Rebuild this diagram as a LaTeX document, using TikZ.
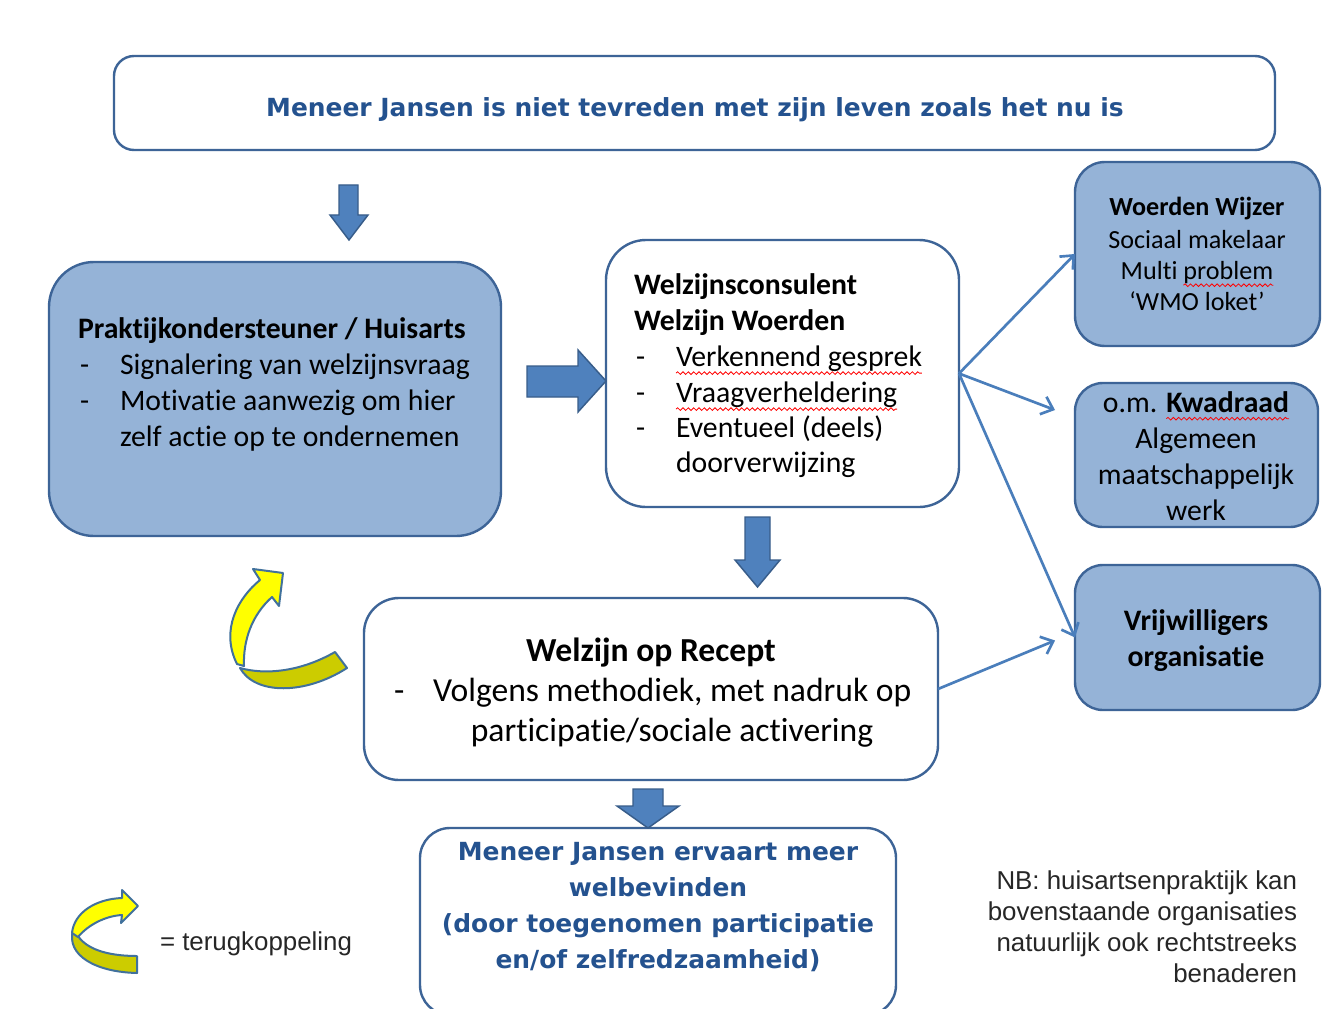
\documentclass[tikz,border=0pt]{standalone}
\usepackage{fontspec}
\usetikzlibrary{arrows.meta,calc,decorations.pathmorphing}
\setmainfont{Carlito}[Ligatures=NoCommon]
\newfontfamily\verd{DejaVu Sans}
\newfontfamily\ari{Liberation Sans}
\definecolor{bord}{HTML}{3D6497}
\definecolor{lfill}{HTML}{95B3D7}
\definecolor{afill}{HTML}{4F81BD}
\definecolor{aborder}{HTML}{385D8A}
\definecolor{tline}{HTML}{4A7EBB}
\definecolor{tblue}{HTML}{24528F}
\definecolor{ybright}{HTML}{FFFF00}
\definecolor{ydark}{HTML}{CCCC00}
\definecolor{yborder}{HTML}{41719C}
\definecolor{nbgray}{HTML}{262626}
\begin{document}
\begin{tikzpicture}[x=0.75pt,y=-0.75pt,
  box/.style={draw=bord, line width=1.8pt, rounded corners=#1, inner sep=0pt, outer sep=0pt},
  blockarrow/.style={fill=afill, draw=aborder, line width=1.1pt, line join=miter},
  thinarr/.style={draw=tline, line width=2pt, -{Straight Barb[length=8pt,width=14pt]}},
  wavy/.style={draw=red, line width=0.6pt, decorate, decoration={snake, amplitude=1pt, segment length=4pt}},
  yband/.style={draw=yborder, line width=1.5pt, line join=round},
  txt/.style={inner sep=0pt, outer sep=0pt},
  vb/.style={txt, text=tblue, font=\verd\bfseries\fontsize{18.7}{22}\selectfont},
  cr/.style={txt, font=\fontsize{22.3}{26}\selectfont},
  cb/.style={txt, font=\bfseries\fontsize{22.3}{26}\selectfont},
  crl/.style={txt, font=\fontsize{25.2}{30}\selectfont},
  cbl/.style={txt, font=\bfseries\fontsize{25.2}{30}\selectfont},
  crs/.style={txt, font=\fontsize{19.6}{23}\selectfont},
  cbs/.style={txt, font=\bfseries\fontsize{19.6}{23}\selectfont},
  ar/.style={txt, text=nbgray, font=\ari\fontsize{19.4}{23}\selectfont}
]
\useasboundingbox (0,0) rectangle (1334,1009);
\clip (0,0) rectangle (1334,1009);
\fill[white] (0,0) rectangle (1334,1009);

% boxes
\node[box=15pt, fill=white, minimum width=870.75pt, minimum height=70.5pt] (top) at (694.5,103) {};
\node[box=33.75pt, fill=lfill, minimum width=339pt, minimum height=205.5pt] (L) at (275,399) {};
\node[box=30pt, fill=white, minimum width=264.75pt, minimum height=200.25pt] (M) at (782.5,373.5) {};
\node[box=26.25pt, fill=white, minimum width=430.5pt, minimum height=136.5pt] (R) at (651,689) {};
\node[box=22.5pt, fill=white, minimum width=357pt, minimum height=140.25pt] (B) at (658,921.5) {};
\node[box=22.5pt, fill=lfill, minimum width=183.75pt, minimum height=138pt] (W) at (1197.5,254) {};
\node[box=21pt, fill=lfill, minimum width=182.25pt, minimum height=108pt] (K) at (1196.5,455) {};
\node[box=21pt, fill=lfill, minimum width=183.75pt, minimum height=108.75pt] (V) at (1197.5,637.5) {};

% block arrows
\draw[blockarrow] (339,185) -- (358,185) -- (358,215) -- (368,215) -- (349,240) -- (330,215) -- (339,215) -- cycle;
\draw[blockarrow] (527,366) -- (578,366) -- (578,350) -- (606,381) -- (578,412) -- (578,397) -- (527,397) -- cycle;
\draw[blockarrow] (745,517) -- (770,517) -- (770,560) -- (780,560) -- (757.5,587) -- (735,560) -- (745,560) -- cycle;
\draw[blockarrow] (633,789) -- (663,789) -- (663,806) -- (679,806) -- (648,828) -- (617,806) -- (633,806) -- cycle;

% thin arrows
\draw[thinarr] (M.east) -- (W.west);
\draw[thinarr] (M.east) -- ($(K.west)+(-20,-45)$);
\draw[thinarr] (M.east) -- (V.west);
\draw[thinarr] (R.east) -- ($(V.west)+(-20,3)$);

% yellow feedback arrow
\draw[yband, fill=ydark] (335,652) -- (347,668) .. controls (305,695) and (255,695) .. (240,668) .. controls (265,675) and (300,672) .. (335,652) -- cycle;
\draw[yband, fill=ybright] (237,664) .. controls (220,630) and (238,598) .. (260,580) -- (253,569) -- (283,573) -- (279,606) -- (272,597) .. controls (252,615) and (243,640) .. (244,666) -- cycle;

% legend arrow
\draw[yband, fill=ydark] (73,930) .. controls (66,955) and (95,972) .. (137,973) -- (137,956) .. controls (105,956) and (86,948) .. (78,936) -- cycle;
\draw[yband, fill=ybright] (122,898) .. controls (95,899) and (74,913) .. (72,933) -- (78,937) .. controls (88,925) and (105,916) .. (122,915) -- (121,923) -- (138,906) -- (122,890) -- cycle;

% texts
\node[vb, anchor=base] (t1) at (695,117) {Meneer Jansen is niet tevreden met zijn leven zoals het nu is};

\node[cb, anchor=base west] (l1) at (78,338) {Praktijkondersteuner / Huisarts};
\node[cr, anchor=base west] (l2d) at (80,374) {-};
\node[cr, anchor=base west] (l2) at (120,374) {Signalering van welzijnsvraag};
\node[cr, anchor=base west] (l3d) at (80,410) {-};
\node[cr, anchor=base west] (l3) at (120,410) {Motivatie aanwezig om hier};
\node[cr, anchor=base west] (l4) at (120,446) {zelf actie op te ondernemen};

\node[cb, anchor=base west] (m1) at (634,294) {Welzijnsconsulent};
\node[cb, anchor=base west] (m2) at (634,330) {Welzijn Woerden};
\node[cr, anchor=base west] (m3d) at (636,366) {-};
\node[cr, anchor=base west] (m3) at (676,366) {Verkennend gesprek};
\node[cr, anchor=base west] (m4d) at (636,402) {-};
\node[cr, anchor=base west] (m4) at (676,402) {Vraagverheldering};
\node[cr, anchor=base west] (m5d) at (636,437) {-};
\node[cr, anchor=base west] (m5) at (676,437) {Eventueel (deels)};
\node[cr, anchor=base west] (m6) at (676,472) {doorverwijzing};
\draw[wavy] ($(m3.south west)+(0,2)$) -- ($(m3.south east)+(0,2)$);
\draw[wavy] ($(m4.south west)+(0,2)$) -- ($(m4.south east)+(0,2)$);

\node[cbl, anchor=base] (r1) at (651,661) {Welzijn op Recept};
\node[crl, anchor=base west] (r2d) at (394,701) {-};
\node[crl, anchor=base west] (r2) at (433,701) {Volgens methodiek, met nadruk op};
\node[crl, anchor=base] (r3) at (672,741) {participatie/sociale activering};

\node[vb, anchor=base] (b1) at (658,860) {Meneer Jansen ervaart meer};
\node[vb, anchor=base] (b2) at (658,896) {welbevinden};
\node[vb, anchor=base] (b3) at (658,932) {(door toegenomen participatie};
\node[vb, anchor=base] (b4) at (658,968) {en/of zelfredzaamheid)};

\node[cbs, anchor=base] (w1) at (1197,216) {Woerden Wijzer};
\node[crs, anchor=base] (w2) at (1197,248) {Sociaal makelaar};
\node[crs, anchor=base] (w3) at (1197,279) {Multi problem};
\node[crs, anchor=base east] (w3p) at (w3.base east) {\phantom{problem}};
\node[crs, anchor=base] (w4) at (1197,310) {‘WMO loket’};
\draw[wavy] ($(w3p.south west)+(0,2)$) -- ($(w3p.south east)+(0,2)$);

\node[cr, anchor=base] (k1) at (1196,412) {o.m. \textbf{Kwadraad}};
\node[cb, anchor=base east] (k1p) at (k1.base east) {\vphantom{p}\phantom{Kwadraad}};
\node[cr, anchor=base] (k2) at (1196,448) {Algemeen};
\node[cr, anchor=base] (k3) at (1196,484) {maatschappelijk};
\node[cr, anchor=base] (k4) at (1196,520) {werk};
\draw[wavy] ($(k1p.south west)+(0,2)$) -- ($(k1p.south east)+(0,2)$);

\node[cb, anchor=base] (v1) at (1196,630) {Vrijwilligers};
\node[cb, anchor=base] (v2) at (1196,666) {organisatie};

\node[ar, anchor=base west] (leg) at (160,950) {= terugkoppeling};

\node[ar, anchor=base east] (nb1) at (1297,889) {NB: huisartsenpraktijk kan};
\node[ar, anchor=base east] (nb2) at (1297,920) {bovenstaande organisaties};
\node[ar, anchor=base east] (nb3) at (1297,951) {natuurlijk ook rechtstreeks};
\node[ar, anchor=base east] (nb4) at (1297,982) {benaderen};
\end{tikzpicture}
\end{document}
